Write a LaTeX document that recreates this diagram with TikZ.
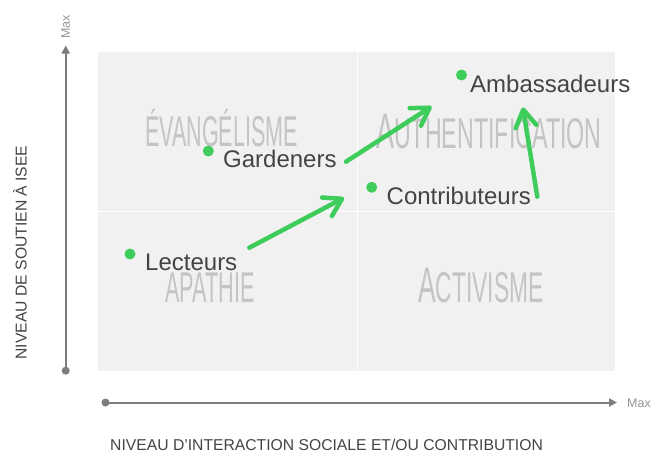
\documentclass[tikz,border=0pt]{standalone}
\usepackage{fontspec}
\setmainfont{Liberation Sans}
\usetikzlibrary{arrows.meta}
\definecolor{grn}{RGB}{62,204,90}
\definecolor{panel}{RGB}{241,241,241}
\definecolor{axiscol}{RGB}{125,125,125}
\definecolor{qtxt}{RGB}{196,196,196}
\definecolor{lbl}{RGB}{68,68,68}
\definecolor{maxcol}{RGB}{150,150,150}
\begin{document}
\begin{tikzpicture}[x=1pt,y=-1pt,
 gdot/.style={circle,fill=grn,inner sep=0pt,minimum size=11pt},
 lab/.style={anchor=base west,inner sep=0pt,text=lbl,font=\fontsize{24}{24}\selectfont},
 quad/.style={anchor=base west,inner sep=0pt,text=qtxt,font=\fontsize{43}{43}\selectfont},
 flow/.style={draw=grn,line width=4.5pt,line cap=round,-{Straight Barb[length=17pt,width=21pt,round]}},
 axisline/.style={draw=axiscol,line width=2pt,-{Triangle[length=8pt,width=8pt]}},
 axisdot/.style={circle,fill=axiscol,inner sep=0pt,minimum size=8pt},
 axtitle/.style={inner sep=0pt,text=lbl,font=\fontsize{15.7}{15.7}\selectfont},
 maxlab/.style={inner sep=0pt,text=maxcol,font=\fontsize{12.5}{12.5}\selectfont}]
\useasboundingbox (0,0) rectangle (652,453);
\fill[white] (0,0) rectangle (652,453);
% panel
\fill[panel] (98.3,51.7) rectangle (615.3,370.7);
\draw[white,line width=1.5pt] (357.7,51.7) -- (357.7,370.7);
\draw[white,line width=1.5pt] (98.3,211.7) -- (615.3,211.7);
% quadrant labels
\node[quad] (qev) at (145,146.7) {\scalebox{0.5}[1]{ÉVANGÉLISME}};
\node[quad] (qau) at (376,148) {\scalebox{0.54}[1]{{\fontsize{50}{50}\selectfont A}UTHENTIFICATION}};
\node[quad] (qap) at (165,302.7) {\scalebox{0.505}[1]{APATHIE}};
\node[quad] (qac) at (418,302.7) {\scalebox{0.53}[1]{{\fontsize{50}{50}\selectfont A}CTIVISME}};
% axes
\node[axisdot] (vdot) at (65.7,370.7) {};
\coordinate (vtop) at (65.7,45.5);
\draw[axisline] (vdot.center) -- (vtop);
\node[maxlab,rotate=90] (vmax) at (65.7,27) {Max};
\node[axisdot] (hdot) at (105.5,402.5) {};
\coordinate (hend) at (617,402.5);
\draw[axisline] (hdot.center) -- (hend);
\node[maxlab,anchor=west] (hmax) at (627,403) {Max};
\node[axtitle,rotate=90] (ytitle) at (20,252.5) {NIVEAU DE SOUTIEN À ISEE};
\node[axtitle,anchor=base west] (xtitle) at (110,450.5) {NIVEAU D’INTERACTION SOCIALE ET/OU CONTRIBUTION};
% points
\node[gdot] (dL) at (130,254) {};
\node[lab] (tL) at (145,270.7) {Lecteurs};
\node[gdot] (dG) at (208.3,151) {};
\node[lab] (tG) at (223,167.7) {Gardeners};
\node[gdot] (dC) at (371.7,187.3) {};
\node[lab] (tC) at (386.5,204) {Contributeurs};
\node[gdot] (dA) at (461.5,75) {};
\node[lab] (tA) at (470,92.7) {Ambassadeurs};
% arrows
\coordinate (aL1) at (249.3,247.7);
\coordinate (aL2) at (344,197.8);
\coordinate (aG1) at (346,161.7);
\coordinate (aG2) at (431.5,106.5);
\coordinate (aC1) at (537.3,196.7);
\coordinate (aC2) at (522.9,107.5);
\draw[flow] (aL1) -- (aL2);
\draw[flow] (aG1) -- (aG2);
\draw[flow] (aC1) -- (aC2);
\end{tikzpicture}
\end{document}
